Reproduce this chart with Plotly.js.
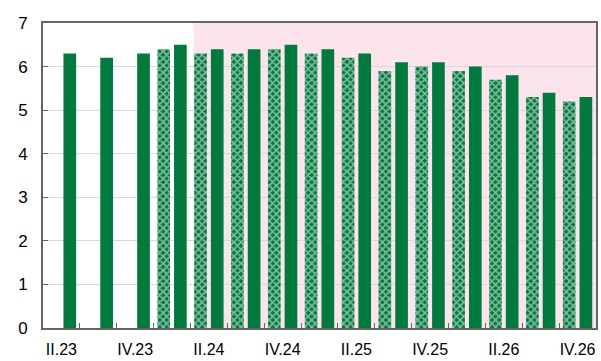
<!DOCTYPE html>
<html>
<head>
<meta charset="utf-8">
<script src="https://cdn.plot.ly/plotly-3.0.1.min.js"></script>
<style>html,body{margin:0;padding:0;background:#fff;}#chart{width:601px;height:361px;}</style>
</head>
<body>
<div id="chart"></div>
<script>
const quarters = ["II.23","III.23","IV.23","I.24","II.24","III.24","IV.24","I.25","II.25","III.25","IV.25","I.26","II.26","III.26","IV.26"];
const tickLabels = ["II.23","","IV.23","","II.24","","IV.24","","II.25","","IV.25","","II.26","","IV.26"];
const patternValues = [null,null,null,6.4,6.3,6.3,6.4,6.3,6.2,5.9,6.0,5.9,5.7,5.3,5.2];
const solidValues = [6.3,6.2,6.3,6.5,6.4,6.4,6.5,6.4,6.3,6.1,6.1,6.0,5.8,5.4,5.3];
const shadeStart = "II.24";

const green = "#007A3D";
const idx = quarters.indexOf(shadeStart);

const traces = [
  {type:"bar", x:quarters, y:patternValues, name:"pattern",
   marker:{color:green, line:{width:0}, pattern:{shape:"x", fgcolor:"#ffffff", bgcolor:green, size:5, solidity:0.55, fillmode:"overlay"}},
   hoverinfo:"skip"},
  {type:"bar", x:quarters, y:solidValues, name:"solid",
   marker:{color:green, line:{width:0}}, hoverinfo:"skip"}
];

const layout = {
  width:601, height:361,
  margin:{l:43, r:5, t:23, b:33},
  paper_bgcolor:"#fff", plot_bgcolor:"#fff",
  showlegend:false,
  barmode:"group", bargap:0.095, bargroupgap:0.24,
  font:{family:"Liberation Sans, Arial, sans-serif", size:16, color:"#000"},
  xaxis:{type:"category", tickvals:quarters, ticktext:tickLabels, tickson:"boundaries",
    tickangle:0, ticks:"inside", ticklen:5, tickcolor:"#666", showgrid:false,
    showline:true, linecolor:"#666", linewidth:2, mirror:true, ticklabelstandoff:6,
    tickfont:{size:16}},
  yaxis:{range:[0,7], dtick:1, tick0:0, ticks:"inside", ticklen:5, tickcolor:"#666",
    showgrid:true, gridcolor:"#d9d9d9", gridwidth:1, zeroline:false,
    showline:true, linecolor:"#666", linewidth:2, mirror:true, ticklabelstandoff:10,
    tickfont:{size:17}},
  shapes:[{type:"rect", xref:"x", yref:"paper", x0:idx-0.42, x1:quarters.length-0.5, y0:0, y1:1,
    fillcolor:"#FCE4EC", line:{width:0}, layer:"below"}]
};

Plotly.newPlot("chart", traces, layout, {staticPlot:true, displayModeBar:false});
</script>
</body>
</html>
